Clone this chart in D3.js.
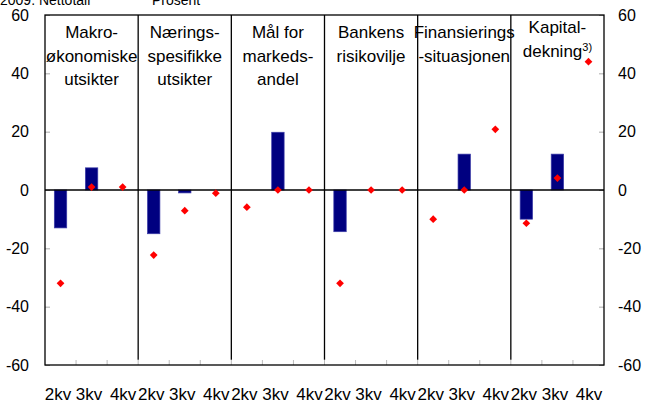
<!DOCTYPE html>
<html>
<head>
<meta charset="utf-8">
<script src="https://cdn.jsdelivr.net/npm/d3@7"></script>
<style>
  body { margin: 0; background: #fff; }
  svg { display: block; font-family: "Liberation Sans", Arial, sans-serif; }
</style>
</head>
<body>
<div id="chart"></div>
<script>
// panel titles (one entry per line)
var groups = [
    ["Makro-", "økonomiske", "utsikter"],
    ["Nærings-", "spesifikke", "utsikter"],
    ["Mål for", "markeds-", "andel"],
    ["Bankens", "risikovilje"],
    ["Finansierings", "-situasjonen"],
    ["Kapital-", "dekning"]
];
var quarters = ["2kv", "3kv", "4kv"];
// bars (actual) and red diamonds (expected), three quarters per panel
var actual = [-13, 7.6, null, -15, -1, null, null, 19.8, null, -14.3, null, null, null, 12.3, null, -10, 12.3, null];
var expected = [-32, 1, 1, -22.3, -7.1, -1.1, -5.9, 0, 0, -32, 0, 0, -10, 0, 20.8, -11.4, 4.1, 44];
var yTicks = [-60, -40, -20, 0, 20, 40, 60];

var width = 646, height = 403;
var margin = {top: 15, right: 42, bottom: 38, left: 45};

var svg = d3.select("#chart").append("svg")
    .attr("width", width)
    .attr("height", height);

var idx = d3.range(groups.length * quarters.length);

var x = d3.scaleBand()
    .domain(idx)
    .range([margin.left, width - margin.right])
    .padding(0);

var y = d3.scaleLinear()
    .domain([-60, 60])
    .range([height - margin.bottom, margin.top]);

var x0 = margin.left, x1 = width - margin.right;
var bw = x.bandwidth();

// top text (mostly cut off in the original)
svg.append("text").attr("x", 0).attr("y", 5)
    .attr("font-size", 14)
    .text("2009. Nettotall");
svg.append("text").attr("x", 152).attr("y", 5)
    .attr("font-size", 14)
    .text("Prosent");

// left axis
var left = svg.append("g")
    .attr("transform", "translate(" + x0 + ",0)")
    .call(d3.axisRight(y).tickValues(yTicks).tickSize(5).tickFormat(""));
left.select(".domain").remove();
left.selectAll(".tick line").attr("stroke", "#aaa");

// right axis
var right = svg.append("g")
    .attr("transform", "translate(" + x1 + ",0)")
    .call(d3.axisLeft(y).tickValues(yTicks).tickSize(5).tickFormat(""));
right.select(".domain").remove();
right.selectAll(".tick line").attr("stroke", "#aaa");

// y tick labels
svg.selectAll(".ylabL").data(yTicks).enter().append("text")
    .attr("x", 29).attr("y", function (d) { return y(d); })
    .attr("dy", "0.35em").attr("text-anchor", "end").attr("font-size", 16)
    .text(function (d) { return d; });
svg.selectAll(".ylabR").data(yTicks).enter().append("text")
    .attr("x", 618).attr("y", function (d) { return y(d); })
    .attr("dy", "0.35em").attr("text-anchor", "start").attr("font-size", 16)
    .text(function (d) { return d; });

// bottom category ticks
svg.selectAll(".xtick").data(idx.slice(1)).enter().append("line")
    .attr("x1", function (d) { return x(d); })
    .attr("x2", function (d) { return x(d); })
    .attr("y1", y(-60)).attr("y2", y(-60) - 5)
    .attr("stroke", "#bbb");

// panel dividers
svg.selectAll(".divider").data(d3.range(1, groups.length)).enter().append("line")
    .attr("x1", function (g) { return x(g * 3); })
    .attr("x2", function (g) { return x(g * 3); })
    .attr("y1", y(60)).attr("y2", y(-58.2))
    .attr("stroke", "#000").attr("stroke-width", 1.3);

// bars
svg.selectAll(".bar").data(idx.filter(function (i) { return actual[i] !== null; })).enter().append("rect")
    .attr("x", function (i) { return x(i) + bw * 0.3; })
    .attr("width", bw * 0.4)
    .attr("y", function (i) { return y(Math.max(0, actual[i])); })
    .attr("height", function (i) { return Math.abs(y(actual[i]) - y(0)); })
    .attr("fill", "#000080")
    .attr("stroke", "#3c3ca8").attr("stroke-width", 0.7);

// zero line
svg.append("line")
    .attr("x1", x0).attr("x2", x1)
    .attr("y1", y(0)).attr("y2", y(0))
    .attr("stroke", "#000").attr("stroke-width", 1.3);

// frame
svg.append("rect")
    .attr("x", x0).attr("y", y(60))
    .attr("width", x1 - x0).attr("height", y(-60) - y(60))
    .attr("fill", "none").attr("stroke", "#000").attr("stroke-width", 1.3);

// diamonds
var diamond = d3.symbol().type(d3.symbolSquare).size(30);
svg.selectAll(".dot").data(idx).enter().append("path")
    .attr("d", diamond)
    .attr("transform", function (i) {
        return "translate(" + (x(i) + bw / 2) + "," + y(expected[i]) + ") rotate(45)";
    })
    .attr("fill", "#ff0000");

// panel titles
groups.forEach(function (lines, g) {
    var cx = (x(g * 3) + x(g * 3 + 2) + bw) / 2;
    var top = g === 5 ? 33 : 38;
    lines.forEach(function (line, k) {
        var t = svg.append("text")
            .attr("x", cx).attr("y", top + k * 23.5)
            .attr("text-anchor", "middle").attr("font-size", 17)
            .text(line);
        if (g === 5 && k === 1) {
            t.append("tspan").attr("font-size", 11).attr("dy", -6).text("3)");
        }
    });
});

// x labels
var xOffset = [-2.5, -2.5, 0.5];
svg.selectAll(".xlab").data(idx).enter().append("text")
    .attr("x", function (i) { return x(i) + bw / 2 + xOffset[i % 3]; })
    .attr("y", 400)
    .attr("text-anchor", "middle").attr("font-size", 17)
    .text(function (i) { return quarters[i % 3]; });
</script>
</body>
</html>
